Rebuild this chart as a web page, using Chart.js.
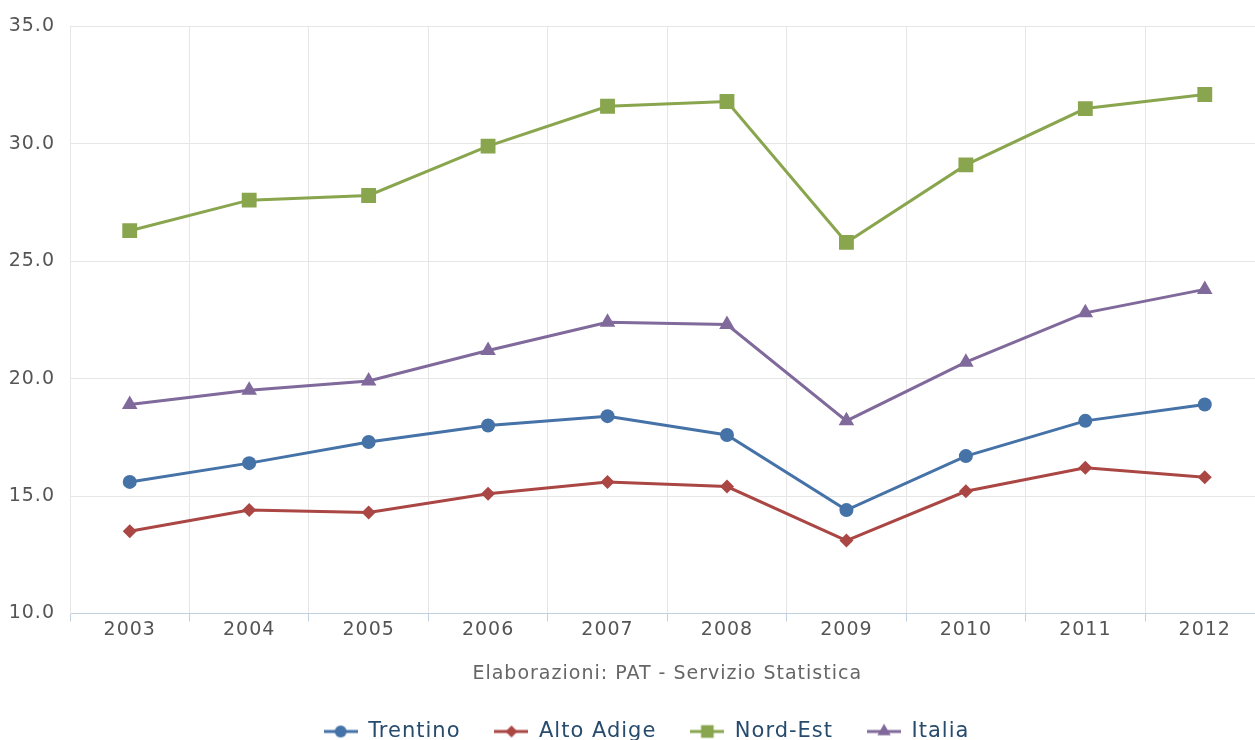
<!DOCTYPE html>
<html><head><meta charset="utf-8">
<script src="https://cdn.jsdelivr.net/npm/chart.js@4.4.1/dist/chart.umd.min.js"></script>
<style>html,body{margin:0;padding:0;background:#fff;overflow:hidden}#wrap{width:1275px;height:740px}</style>
</head><body><div id="wrap"><canvas id="c" width="1275" height="740"></canvas></div>
<script>
const categories = ['2003','2004','2005','2006','2007','2008','2009','2010','2011','2012'];
const trentino  = [15.6,16.4,17.3,18.0,18.4,17.6,14.4,16.7,18.2,18.9];
const altoAdige = [13.5,14.4,14.3,15.1,15.6,15.4,13.1,15.2,16.2,15.8];
const nordEst   = [26.3,27.6,27.8,29.9,31.6,31.8,25.8,29.1,31.5,32.1];
const italia    = [18.9,19.5,19.9,21.2,22.4,22.3,18.2,20.7,22.8,23.8];
const seriesNames = ['Trentino','Alto Adige','Nord-Est','Italia'];
const yTicks = [10,15,20,25,30,35];
const sourceText = 'Elaborazioni: PAT - Servizio Statistica';

const FONT = "'DejaVu Sans', Verdana, sans-serif";
const colors = ['#4572A7','#AA4643','#89A54E','#80699B'];
const styles = ['circle','rectRot','rect','triangle'];
const radii = [7,7,10.5,9];

function legendIcon(i){
  const c = document.createElement('canvas');
  c.width = 34; c.height = 20;
  const ctx = c.getContext('2d');
  ctx.strokeStyle = colors[i]; ctx.lineWidth = 3;
  ctx.beginPath(); ctx.moveTo(0,10); ctx.lineTo(34,10); ctx.stroke();
  ctx.fillStyle = colors[i];
  Chart.helpers.drawPoint(ctx, {pointStyle: styles[i], radius: radii[i]*0.85, rotation:0, borderWidth:0}, 17, 10);
  return c;
}

const spacingPlugin = {
  id: 'spacing',
  beforeLayout(chart){ chart.ctx.letterSpacing = '1px'; },
  afterLayout(chart){ if (chart.legend) { chart.legend.left += 9; chart.legend.right += 9; } },
  beforeDraw(chart){ chart.ctx.letterSpacing = '1px'; }
};

const dataArrays = [trentino, altoAdige, nordEst, italia];
const datasets = dataArrays.map((d,i)=>({
  label: seriesNames[i], data: d,
  borderColor: colors[i], backgroundColor: colors[i],
  borderWidth: 3, pointStyle: styles[i], pointRadius: radii[i],
  pointBorderWidth: 0, pointBackgroundColor: colors[i], tension: 0
}));

new Chart(document.getElementById('c'), {
  type: 'line',
  data: { labels: categories, datasets },
  plugins: [spacingPlugin],
  options: {
    responsive: false, animation: false,
    layout: { padding: { top: 22, right: 0, left: 0, bottom: -12 } },
    plugins: {
      tooltip: { enabled: false },
      legend: {
        position: 'bottom',
        labels: {
          usePointStyle: true, pointStyleWidth: 34, padding: 34,
          color: '#274B6D',
          font: { family: FONT, size: 21 },
          generateLabels: (chart) => chart.data.datasets.map((ds,i)=>({
            text: ds.label, pointStyle: legendIcon(i), fillStyle: colors[i],
            strokeStyle: colors[i], lineWidth: 0, fontColor: '#274B6D', datasetIndex: i, hidden: false
          }))
        }
      }
    },
    scales: {
      x: {
        offset: true,
        grid: { offset: true, color: '#E6E6E6', lineWidth: 1, tickLength: 8, tickColor: '#C0D0E0' },
        border: { color: '#C0D0E0', width: 1 },
        ticks: { color: '#555', padding: -3, font: { family: FONT, size: 19 } },
        title: { display: true, text: sourceText, color: '#666', padding: { top: 24, bottom: 2 }, font: { family: FONT, size: 19 } }
      },
      y: {
        min: 10, max: 35,
        afterFit: (s) => { s.width = 70; },
        afterBuildTicks: (s) => { s.ticks = yTicks.map(v=>({value:v})); },
        grid: { color: '#E6E6E6', drawTicks: false },
        border: { color: '#E6E6E6' },
        ticks: { color: '#555', padding: 15, font: { family: FONT, size: 19 }, callback: (v)=>Number(v).toFixed(1) }
      }
    }
  }
});
</script></body></html>
